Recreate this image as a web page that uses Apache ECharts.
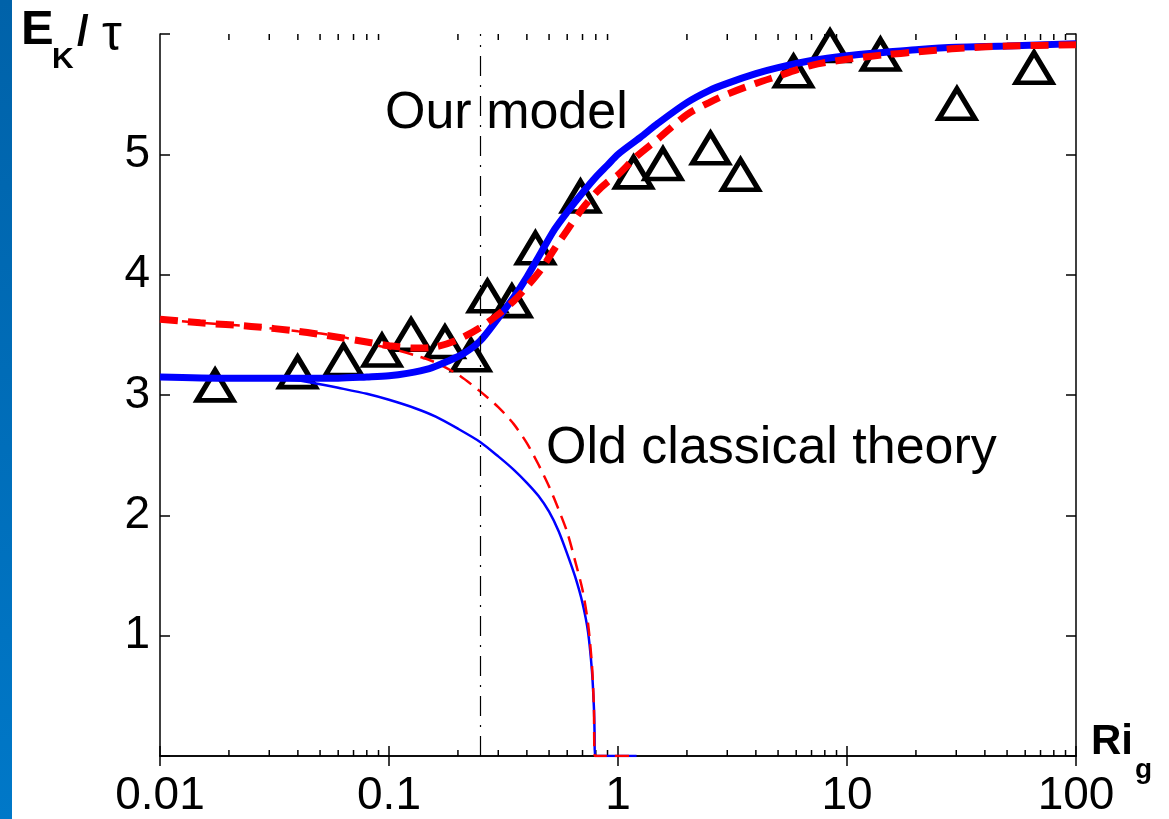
<!DOCTYPE html>
<html>
<head>
<meta charset="utf-8">
<title>EK / tau vs Ri_g</title>
<script src="https://cdn.jsdelivr.net/npm/echarts@6/dist/echarts.min.js"></script>
<style>
    html, body { margin: 0; padding: 0; background: #fff; }
    #chart { width: 1169px; height: 819px; }
</style>
</head>
<body>
<div id="chart"></div>
<script>
// model curve (thick blue, solid)
var modelX = [0.01, 0.02, 0.04, 0.06, 0.08, 0.1, 0.12, 0.15, 0.18, 0.21, 0.25, 0.3, 0.35, 0.4, 0.46, 0.53, 0.6, 0.7, 0.8, 0.9, 1.0, 1.25, 1.5, 2.0, 2.5, 3.0, 4.0, 5.0, 7.0, 10, 15, 20, 30, 50, 100];
var modelY = [3.15, 3.14, 3.14, 3.14, 3.15, 3.16, 3.18, 3.22, 3.28, 3.34, 3.45, 3.64, 3.81, 3.98, 4.18, 4.38, 4.52, 4.68, 4.81, 4.91, 5.00, 5.14, 5.26, 5.43, 5.53, 5.59, 5.67, 5.72, 5.78, 5.82, 5.85, 5.87, 5.89, 5.90, 5.92];

// model curve (thick red, dashed)
var modelRedX = [0.01, 0.015, 0.025, 0.04, 0.06, 0.08, 0.1, 0.13, 0.16, 0.2, 0.25, 0.3, 0.35, 0.4, 0.46, 0.53, 0.6, 0.7, 0.8, 0.9, 1.0, 1.2, 1.5, 2.0, 2.5, 3.0, 4.0, 5.0, 7.0, 10, 15, 20, 30, 50, 100];
var modelRedY = [3.63, 3.60, 3.57, 3.53, 3.48, 3.44, 3.41, 3.39, 3.40, 3.46, 3.56, 3.67, 3.78, 3.90, 4.04, 4.22, 4.37, 4.55, 4.68, 4.77, 4.83, 4.98, 5.13, 5.33, 5.43, 5.50, 5.59, 5.65, 5.74, 5.79, 5.83, 5.85, 5.88, 5.90, 5.91];

// old classical theory (thin blue, solid)
var oldX = [0.01, 0.02, 0.03, 0.04, 0.05, 0.06, 0.08, 0.1, 0.13, 0.16, 0.2, 0.25, 0.3, 0.35, 0.4, 0.45, 0.5, 0.55, 0.6, 0.65, 0.7, 0.74, 0.77, 0.785, 0.79, 0.792, 1.205];
var oldY = [3.15, 3.14, 3.13, 3.12, 3.09, 3.06, 3.01, 2.96, 2.89, 2.82, 2.72, 2.61, 2.49, 2.38, 2.27, 2.16, 2.03, 1.87, 1.68, 1.49, 1.27, 1.03, 0.70, 0.40, 0.20, 0, 0];

// old classical theory (thin red, dashed)
var oldRedX = [0.01, 0.015, 0.025, 0.04, 0.06, 0.08, 0.1, 0.13, 0.16, 0.2, 0.25, 0.3, 0.35, 0.4, 0.45, 0.5, 0.55, 0.6, 0.65, 0.7, 0.74, 0.77, 0.785, 0.792, 1.205];
var oldRedY = [3.63, 3.60, 3.57, 3.53, 3.49, 3.43, 3.39, 3.33, 3.27, 3.17, 3.03, 2.90, 2.76, 2.60, 2.42, 2.24, 2.05, 1.86, 1.62, 1.38, 1.10, 0.75, 0.40, 0, 0];

// measurements (triangles)
var obsX = [0.0174, 0.0399, 0.0633, 0.0932, 0.1248, 0.1755, 0.228, 0.269, 0.344, 0.436, 0.686, 1.169, 1.572, 2.535, 3.427, 5.84, 8.43, 14.0, 30.2, 65.6];
var obsY = [3.08, 3.19, 3.29, 3.37, 3.50, 3.44, 3.33, 3.82, 3.78, 4.22, 4.65, 4.85, 4.92, 5.05, 4.83, 5.69, 5.90, 5.83, 5.42, 5.72];

var criticalRi = 0.25;
var minorTicks = [0.02, 0.03, 0.04, 0.05, 0.06, 0.07, 0.08, 0.09,
                  0.2, 0.3, 0.4, 0.5, 0.6, 0.7, 0.8, 0.9,
                  2, 3, 4, 5, 6, 7, 8, 9,
                  20, 30, 40, 50, 60, 70, 80, 90];

function pairs(xs, ys) {
    var out = [];
    for (var i = 0; i < xs.length; i++) {
        out.push([xs[i], ys[i]]);
    }
    return out;
}

var FONT = "'Liberation Sans', Arial, sans-serif";
var chart = echarts.init(document.getElementById('chart'));

var tickStyle = { inside: true, length: 10, lineStyle: { color: '#000', width: 1.5 } };
var lineAxis = { lineStyle: { color: '#000', width: 1.5 } };

var option = {
    animation: false,
    backgroundColor: '#fff',
    grid: { left: 160, top: 34, width: 916, height: 723 },
    xAxis: [{
        type: 'log', logBase: 10, min: 0.01, max: 100, position: 'bottom',
        axisLine: lineAxis, axisTick: tickStyle, splitLine: { show: false },
        axisLabel: {
            margin: 17, color: '#000', fontSize: 46, fontFamily: FONT,
            formatter: function (v) { return String(+v.toPrecision(3)); }
        }
    }, {
        type: 'log', logBase: 10, min: 0.01, max: 100, position: 'top',
        axisLine: lineAxis, axisTick: tickStyle, splitLine: { show: false },
        axisLabel: { show: false }
    }],
    yAxis: [{
        type: 'value', min: 0, max: 6, interval: 1, position: 'left',
        axisLine: lineAxis, axisTick: tickStyle, splitLine: { show: false },
        axisLabel: {
            margin: 10, color: '#000', fontSize: 46, fontFamily: FONT,
            formatter: function (v) { return (v === 0 || v === 6) ? '' : String(v); }
        }
    }, {
        type: 'value', min: 0, max: 6, interval: 1, position: 'right',
        axisLine: lineAxis, axisTick: tickStyle, splitLine: { show: false },
        axisLabel: { show: false }
    }],
    series: [{
        // minor ticks of the log axis, bottom and top
        type: 'custom',
        silent: true,
        data: minorTicks.map(function (v) { return [v, 0]; }),
        renderItem: function (params, api) {
            var x = api.coord([api.value(0), 1])[0];
            var cs = params.coordSys;
            var yb = cs.y + cs.height;
            return {
                type: 'group',
                children: [
                    { type: 'line', shape: { x1: x, y1: yb, x2: x, y2: yb - 6 }, style: { stroke: '#000', lineWidth: 1.5 } },
                    { type: 'line', shape: { x1: x, y1: cs.y, x2: x, y2: cs.y + 6 }, style: { stroke: '#000', lineWidth: 1.5 } }
                ]
            };
        }
    }, {
        type: 'scatter',
        silent: true,
        data: pairs(obsX, obsY),
        symbol: 'triangle',
        symbolSize: [36, 30],
        itemStyle: { color: 'rgba(255,255,255,0)', borderColor: '#000', borderWidth: 5, opacity: 1 },
        markLine: {
            silent: true,
            symbol: 'none',
            label: { show: false },
            lineStyle: { color: '#000', width: 1.2, type: [20, 9, 2, 9] },
            data: [{ xAxis: criticalRi }]
        }
    }, {
        type: 'line',
        silent: true,
        data: pairs(oldX, oldY),
        showSymbol: false,
        smooth: 0.25,
        lineStyle: { color: '#0000ff', width: 2.5 }
    }, {
        type: 'line',
        silent: true,
        data: pairs(oldRedX, oldRedY),
        showSymbol: false,
        smooth: 0.25,
        lineStyle: { color: '#ff0000', width: 2.5, type: [14, 8] }
    }, {
        type: 'line',
        silent: true,
        data: pairs(modelX, modelY),
        showSymbol: false,
        smooth: 0.3,
        lineStyle: { color: '#0000ff', width: 7 }
    }, {
        type: 'line',
        silent: true,
        data: pairs(modelRedX, modelRedY),
        showSymbol: false,
        smooth: 0.3,
        lineStyle: { color: '#ff0000', width: 7, type: [18, 10] }
    }],
    graphic: [{
        type: 'rect', left: 0, top: 0, silent: true,
        shape: { width: 12, height: 819 },
        style: {
            fill: new echarts.graphic.LinearGradient(0, 0, 0, 1, [
                { offset: 0, color: '#0062a9' },
                { offset: 1, color: '#0078c8' }
            ])
        }
    },
    { type: 'text', x: 21, y: 30, style: { text: 'E', font: 'bold 49px ' + FONT, fill: '#000', verticalAlign: 'middle' } },
    { type: 'text', x: 52, y: 60, style: { text: 'K', font: 'bold 30px ' + FONT, fill: '#000', verticalAlign: 'middle' } },
    { type: 'text', x: 77, y: 33, style: { text: '/', font: 'bold 42px ' + FONT, fill: '#000', verticalAlign: 'middle' } },
    { type: 'text', x: 102, y: 36, style: { text: 'τ', font: '50px ' + FONT, fill: '#000', verticalAlign: 'middle' } },
    { type: 'text', x: 1091, y: 742, style: { text: 'Ri', font: 'bold 42px ' + FONT, fill: '#000', verticalAlign: 'middle' } },
    { type: 'text', x: 1135, y: 770, style: { text: 'g', font: 'bold 28px ' + FONT, fill: '#000', verticalAlign: 'middle' } },
    { type: 'text', x: 385, y: 114, style: { text: 'Our model', font: '52px ' + FONT, fill: '#000', verticalAlign: 'middle' } },
    { type: 'text', x: 546, y: 449, style: { text: 'Old classical theory', font: '52px ' + FONT, fill: '#000', verticalAlign: 'middle' } }
    ]
};

chart.setOption(option);
</script>
</body>
</html>
